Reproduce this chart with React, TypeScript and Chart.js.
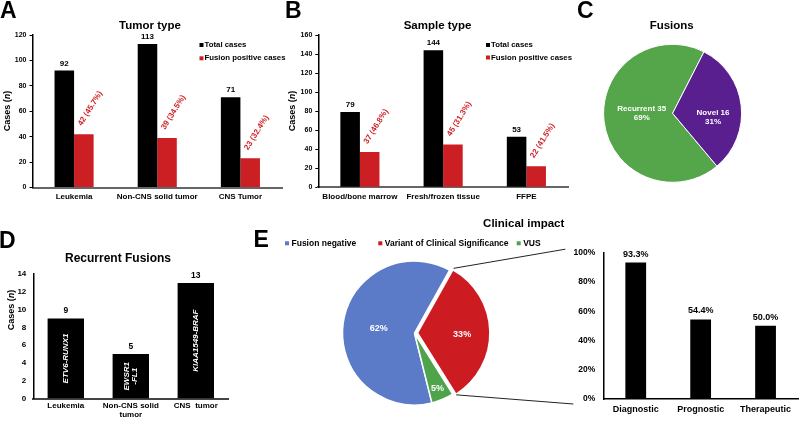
import React, { useEffect, useRef } from 'react';
import { Chart, registerables } from 'chart.js';
Chart.register(...registerables);

const W = 799;
const H = 423;
const FF = '"Liberation Sans", Arial, sans-serif';
const f = (size: number, style = 'bold') => `${style} ${size}px ${FF}`;

// ---------- Panel A: Tumor type ----------
const tumorTypes = ['Leukemia', 'Non-CNS solid tumor', 'CNS Tumor'];
const tumorTotal = [92, 113, 71];
const tumorFusion = [42, 39, 23];
const tumorFusionPct = ['45.7%', '34.5%', '32.4%'];

// ---------- Panel B: Sample type ----------
const sampleTypes = ['Blood/bone marrow', 'Fresh/frozen tissue', 'FFPE'];
const sampleTotal = [79, 144, 53];
const sampleFusion = [37, 45, 22];
const sampleFusionPct = ['46.8%', '31.3%', '41.5%'];

// ---------- Panel C: Fusions ----------
const fusionLabels = ['Recurrent', 'Novel'];
const fusionCounts = [35, 16];
const fusionPct = ['69%', '31%'];

// ---------- Panel D: Recurrent fusions ----------
const recurrentCats = ['Leukemia', ['Non-CNS solid', 'tumor'], 'CNS  tumor'];
const recurrentCounts = [9, 5, 13];
const recurrentNames = [['ETV6-RUNX1'], ['EWSR1', '-FL1'], ['KIAA1549-BRAF']];

// ---------- Panel E: Clinical impact ----------
const impactLabels = ['Fusion negative', 'Variant of Clinical Significance', 'VUS'];
const impactPct = [62, 33, 5];
const clinicalCats = ['Diagnostic', 'Prognostic', 'Therapeutic'];
const clinicalPct = [93.3, 54.4, 50.0];

const legendLabels = ['Total cases', 'Fusion positive cases'];

const RED = '#cc1f24';
const BLACK = '#000000';
const GREEN_C = '#55a64b';
const PURPLE = '#5a1f8f';
const BLUE_E = '#5b7bc8';
const RED_E = '#cc1c22';
const GREEN_E = '#4fa34a';

function drawText(
  ctx: CanvasRenderingContext2D, s: string, x: number, y: number, font: string,
  color = '#000', align: CanvasTextAlign = 'center', baseline: CanvasTextBaseline = 'alphabetic'
) {
  ctx.save();
  ctx.font = font;
  ctx.fillStyle = color;
  ctx.textAlign = align;
  ctx.textBaseline = baseline;
  ctx.fillText(s, x, y);
  ctx.restore();
}

function rotText(
  ctx: CanvasRenderingContext2D, s: string, x: number, y: number, deg: number, font: string,
  color: string
) {
  ctx.save();
  ctx.translate(x, y);
  ctx.rotate((deg * Math.PI) / 180);
  ctx.font = font;
  ctx.fillStyle = color;
  ctx.textAlign = 'left';
  ctx.textBaseline = 'middle';
  ctx.fillText(s, 0, 0);
  ctx.restore();
}

function drawCasesTitle(ctx: CanvasRenderingContext2D, x: number, y: number) {
  const size = 9;
  const parts: [string, string][] = [
    ['Cases (', f(size)],
    ['n', f(size, 'italic bold')],
    [')', f(size)],
  ];
  ctx.save();
  ctx.translate(x, y);
  ctx.rotate(-Math.PI / 2);
  ctx.textBaseline = 'middle';
  ctx.textAlign = 'left';
  ctx.fillStyle = '#000';
  let total = 0;
  const widths = parts.map(([s, fo]) => {
    ctx.font = fo;
    const w = ctx.measureText(s).width;
    total += w;
    return w;
  });
  let cx = -total / 2;
  parts.forEach(([s, fo], i) => {
    ctx.font = fo;
    ctx.fillText(s, cx, 0);
    cx += widths[i];
  });
  ctx.restore();
}

function drawLegend(ctx: CanvasRenderingContext2D, x: number, ys: number[], colors: string[], labels: string[], size: number) {
  labels.forEach((label, i) => {
    ctx.save();
    ctx.fillStyle = colors[i];
    ctx.fillRect(x, ys[i] - 2, 4, 4);
    ctx.restore();
    drawText(ctx, label, x + 5, ys[i], f(size), '#000', 'left', 'middle');
  });
}

type BarOpts = {
  labels: any[];
  datasets: any[];
  area: [number, number, number, number];
  yMax: number;
  yStep: number;
  yTickSize: number;
  xTickSize: number;
  yTickMarks: boolean;
  yPad: number;
  xPad: number;
  catPct: number;
  barPct: number;
  xAxisColor: string;
  xAxisWidth: number;
  yFmt?: (v: any) => string;
  draw: (chart: any) => void;
};

function makeBar(canvas: HTMLCanvasElement, o: BarOpts) {
  const yW = 30;
  const xH = 24;
  const [l, t, r, b] = o.area;
  return new Chart(canvas, {
    type: 'bar',
    data: {
      labels: o.labels,
      datasets: o.datasets.map((d) => ({
        ...d,
        categoryPercentage: o.catPct,
        barPercentage: o.barPct,
        borderWidth: 0,
      })),
    },
    options: {
      responsive: false,
      animation: false,
      events: [],
      layout: { padding: { left: l - yW, top: t, right: W - r, bottom: Math.max(H - b - xH, 0) } },
      plugins: { legend: { display: false }, tooltip: { enabled: false }, title: { display: false } },
      scales: {
        x: {
          grid: { display: false, drawTicks: false },
          border: { display: true, color: o.xAxisColor, width: o.xAxisWidth },
          ticks: {
            font: { family: FF, size: o.xTickSize, weight: 'bold', lineHeight: 1.05 },
            color: '#000',
            padding: o.xPad,
            maxRotation: 0,
            minRotation: 0,
            autoSkip: false,
          },
          afterFit: (s: any) => { s.height = Math.min(xH, H - b); },
        },
        y: {
          min: 0,
          max: o.yMax,
          grid: {
            display: o.yTickMarks,
            drawOnChartArea: false,
            drawTicks: o.yTickMarks,
            tickLength: 3,
            color: '#000',
          },
          border: { display: true, color: '#000', width: 1.5 },
          ticks: {
            stepSize: o.yStep,
            font: { family: FF, size: o.yTickSize, weight: 'bold' },
            color: '#000',
            padding: o.yPad,
            callback: o.yFmt || ((v: any) => String(v)),
          },
          afterFit: (s: any) => { s.width = yW; },
        },
      },
    } as any,
    plugins: [{ id: 'customDraw', afterDraw: o.draw }],
  });
}

function pieLabelPos(el: any, factor: number, offsetPx: number) {
  const mid = (el.startAngle + el.endAngle) / 2;
  const r = el.outerRadius * factor + offsetPx;
  return { x: el.x + Math.cos(mid) * r, y: el.y + Math.sin(mid) * r };
}

export default function App() {
  const rA = useRef<HTMLCanvasElement>(null);
  const rB = useRef<HTMLCanvasElement>(null);
  const rC = useRef<HTMLCanvasElement>(null);
  const rD = useRef<HTMLCanvasElement>(null);
  const rE1 = useRef<HTMLCanvasElement>(null);
  const rE2 = useRef<HTMLCanvasElement>(null);

  useEffect(() => {
    const charts: Chart[] = [];

    // Panel A
    charts.push(
      makeBar(rA.current!, {
        labels: tumorTypes,
        datasets: [
          { label: legendLabels[0], data: tumorTotal, backgroundColor: BLACK },
          { label: legendLabels[1], data: tumorFusion, backgroundColor: RED },
        ],
        area: [32.5, 35, 282, 187.5],
        yMax: 120,
        yStep: 20,
        yTickSize: 7,
        xTickSize: 8,
        yTickMarks: true,
        yPad: 3,
        xPad: 5,
        catPct: 0.47,
        barPct: 1,
        xAxisColor: '#666666',
        xAxisWidth: 2,
        draw: (chart: any) => {
          const ctx = chart.ctx;
          drawText(ctx, 'A', 0, 18.3, f(23), '#000', 'left');
          drawText(ctx, 'Tumor type', 150, 28.5, f(11.5));
          drawCasesTitle(ctx, 7.5, 111);
          drawLegend(ctx, 199.5, [45, 58.3], [BLACK, RED], legendLabels, 7.8);
          chart.getDatasetMeta(0).data.forEach((el: any, i: number) =>
            drawText(ctx, String(tumorTotal[i]), el.x, el.y - 5, f(8)));
          chart.getDatasetMeta(1).data.forEach((el: any, i: number) =>
            rotText(ctx, `${tumorFusion[i]} (${tumorFusionPct[i]})`, el.x - 4, el.y - 9, -58, f(8), RED));
        },
      })
    );

    // Panel B
    charts.push(
      makeBar(rB.current!, {
        labels: sampleTypes,
        datasets: [
          { label: legendLabels[0], data: sampleTotal, backgroundColor: BLACK },
          { label: legendLabels[1], data: sampleFusion, backgroundColor: RED },
        ],
        area: [318.3, 35, 568, 187.3],
        yMax: 160,
        yStep: 20,
        yTickSize: 7,
        xTickSize: 8,
        yTickMarks: true,
        yPad: 3,
        xPad: 5,
        catPct: 0.47,
        barPct: 1,
        xAxisColor: '#666666',
        xAxisWidth: 2,
        draw: (chart: any) => {
          const ctx = chart.ctx;
          drawText(ctx, 'B', 285, 18.3, f(23), '#000', 'left');
          drawText(ctx, 'Sample type', 437.5, 28.5, f(11.5));
          drawCasesTitle(ctx, 292.3, 111);
          drawLegend(ctx, 486, [45, 57.5], [BLACK, RED], legendLabels, 7.8);
          chart.getDatasetMeta(0).data.forEach((el: any, i: number) =>
            drawText(ctx, String(sampleTotal[i]), el.x, el.y - 5, f(8)));
          chart.getDatasetMeta(1).data.forEach((el: any, i: number) =>
            rotText(ctx, `${sampleFusion[i]} (${sampleFusionPct[i]})`, el.x - 4, el.y - 9, -58, f(8), RED));
        },
      })
    );

    // Panel C
    const cCx = 672.6, cCy = 113.3;
    charts.push(
      new Chart(rC.current!, {
        type: 'pie',
        data: {
          labels: fusionLabels,
          datasets: [{
            data: fusionCounts,
            backgroundColor: [GREEN_C, PURPLE],
            borderColor: '#ffffff',
            borderWidth: 1,
            rotation: 140,
            radius: 69,
          } as any],
        },
        options: {
          responsive: false,
          animation: false,
          events: [],
          rotation: 140,
          layout: { padding: { left: cCx - 75, right: W - (cCx + 75), top: cCy - 75, bottom: H - (cCy + 75) } },
          plugins: { legend: { display: false }, tooltip: { enabled: false } },
        } as any,
        plugins: [{
          id: 'cDraw',
          afterDraw: (chart: any) => {
            const ctx = chart.ctx;
            drawText(ctx, 'C', 577, 17.8, f(23), '#000', 'left');
            drawText(ctx, 'Fusions', 671.7, 29, f(11.5));
            const factors = [0.45, 0.59];
            const nudgeY = [-4, 9];
            chart.getDatasetMeta(0).data.forEach((el: any, i: number) => {
              const p = pieLabelPos(el, factors[i], 0);
              const y = p.y + nudgeY[i];
              drawText(ctx, `${fusionLabels[i]} ${fusionCounts[i]}`, p.x, y - 4.5, f(8), '#fff', 'center', 'middle');
              drawText(ctx, fusionPct[i], p.x, y + 4.5, f(8), '#fff', 'center', 'middle');
            });
          },
        }],
      })
    );

    // Panel D
    charts.push(
      makeBar(rD.current!, {
        labels: recurrentCats,
        datasets: [{ label: 'Recurrent', data: recurrentCounts, backgroundColor: BLACK }],
        area: [33.3, 274, 228.3, 398.5],
        yMax: 14,
        yStep: 2,
        yTickSize: 8,
        xTickSize: 8,
        yTickMarks: false,
        yPad: 7,
        xPad: 3.5,
        catPct: 1,
        barPct: 0.56,
        xAxisColor: '#444444',
        xAxisWidth: 2,
        draw: (chart: any) => {
          const ctx = chart.ctx;
          drawText(ctx, 'D', -1, 248.3, f(23), '#000', 'left');
          drawText(ctx, 'Recurrent Fusions', 118, 262, f(12));
          drawCasesTitle(ctx, 11.7, 310);
          chart.getDatasetMeta(0).data.forEach((el: any, i: number) => {
            drawText(ctx, String(recurrentCounts[i]), el.x, el.y - 5, f(8.5));
            const lines = recurrentNames[i];
            const cy = (el.y + el.base) / 2;
            ctx.save();
            ctx.translate(el.x, cy);
            ctx.rotate(-Math.PI / 2);
            ctx.font = f(8, 'italic bold');
            ctx.fillStyle = '#fff';
            ctx.textAlign = 'center';
            ctx.textBaseline = 'middle';
            lines.forEach((s, k) => ctx.fillText(s, 0, (k - (lines.length - 1) / 2) * 8.5));
            ctx.restore();
          });
        },
      })
    );

    // Panel E bar
    const eBar = makeBar(rE1.current!, {
      labels: clinicalCats,
      datasets: [{ label: 'Clinical impact', data: clinicalPct, backgroundColor: BLACK }],
      area: [603.3, 252.7, 798, 399],
      yMax: 100,
      yStep: 20,
      yTickSize: 8.5,
      xTickSize: 9,
      yTickMarks: false,
      yPad: 8,
      xPad: 6,
      catPct: 1,
      barPct: 0.32,
      xAxisColor: '#000000',
      xAxisWidth: 1.5,
      yFmt: (v: any) => `${v}%`,
      draw: (chart: any) => {
        const ctx = chart.ctx;
        chart.getDatasetMeta(0).data.forEach((el: any, i: number) =>
          drawText(ctx, `${clinicalPct[i].toFixed(1)}%`, el.x, el.y - 6, f(9)));
      },
    });
    charts.push(eBar);

    // Panel E pie
    const eCx = 414.5, eCy = 333;
    const eOffsets = [0, 12, 0];
    charts.push(
      new Chart(rE2.current!, {
        type: 'pie',
        data: {
          labels: impactLabels,
          datasets: [{
            data: impactPct,
            backgroundColor: [BLUE_E, RED_E, GREEN_E],
            borderColor: '#ffffff',
            borderWidth: 1.5,
            offset: eOffsets,
            rotation: 166,
            radius: 72,
          } as any],
        },
        options: {
          responsive: false,
          animation: false,
          events: [],
          rotation: 166,
          layout: { padding: { left: eCx - 80, right: W - (eCx + 80), top: eCy - 80, bottom: H - (eCy + 80) } },
          plugins: { legend: { display: false }, tooltip: { enabled: false } },
        } as any,
        plugins: [{
          id: 'eDraw',
          afterDraw: (chart: any) => {
            const ctx = chart.ctx;
            drawText(ctx, 'E', 253.5, 246.7, f(23), '#000', 'left');
            drawText(ctx, 'Clinical impact', 523.7, 226.5, f(11.5));
            const legX = [285, 378.3, 516.7];
            const cols = [BLUE_E, RED_E, GREEN_E];
            impactLabels.forEach((lab, i) => {
              ctx.save();
              ctx.fillStyle = cols[i];
              ctx.fillRect(legX[i], 241.3, 4, 4);
              ctx.restore();
              drawText(ctx, lab, legX[i] + 6.5, 243.5, f(8.5), '#000', 'left', 'middle');
            });
            const meta = chart.getDatasetMeta(0);
            const factors = [0.5, 0.62, 0.82];
            const nudgeY = [0, 3, 1];
            meta.data.forEach((el: any, i: number) => {
              const p = pieLabelPos(el, factors[i], eOffsets[i] / 4);
              drawText(ctx, `${impactPct[i]}%`, p.x, p.y + nudgeY[i], f(9), '#fff', 'center', 'middle');
            });
            // connector lines from the highlighted slice to the bar chart
            const red: any = meta.data[1];
            const mid = (red.startAngle + red.endAngle) / 2;
            const off = eOffsets[1] / 4;
            const cx = red.x + Math.cos(mid) * off;
            const cy = red.y + Math.sin(mid) * off;
            const R = red.outerRadius;
            const ys = eBar.scales.y;
            const ax = eBar.chartArea.left;
            ctx.save();
            ctx.strokeStyle = '#222';
            ctx.lineWidth = 1;
            ctx.beginPath();
            ctx.moveTo(cx + Math.cos(red.startAngle) * (R + 2), cy + Math.sin(red.startAngle) * (R + 2));
            ctx.lineTo(ax - 38, ys.getPixelForValue(100) - 3.5);
            ctx.moveTo(cx + Math.cos(red.endAngle) * (R + 1), cy + Math.sin(red.endAngle) * (R + 1));
            ctx.lineTo(ax - 30, ys.getPixelForValue(0) + 5);
            ctx.stroke();
            ctx.restore();
          },
        }],
      })
    );

    return () => charts.forEach((c) => c.destroy());
  }, []);

  const cs: React.CSSProperties = { position: 'absolute', left: 0, top: 0, width: W, height: H };
  return (
    <div style={{ position: 'fixed', left: 0, top: 0, width: W, height: H, background: '#fff', overflow: 'hidden' }}>
      <canvas ref={rA} width={W} height={H} style={cs} />
      <canvas ref={rB} width={W} height={H} style={cs} />
      <canvas ref={rC} width={W} height={H} style={cs} />
      <canvas ref={rD} width={W} height={H} style={cs} />
      <canvas ref={rE1} width={W} height={H} style={cs} />
      <canvas ref={rE2} width={W} height={H} style={cs} />
    </div>
  );
}
